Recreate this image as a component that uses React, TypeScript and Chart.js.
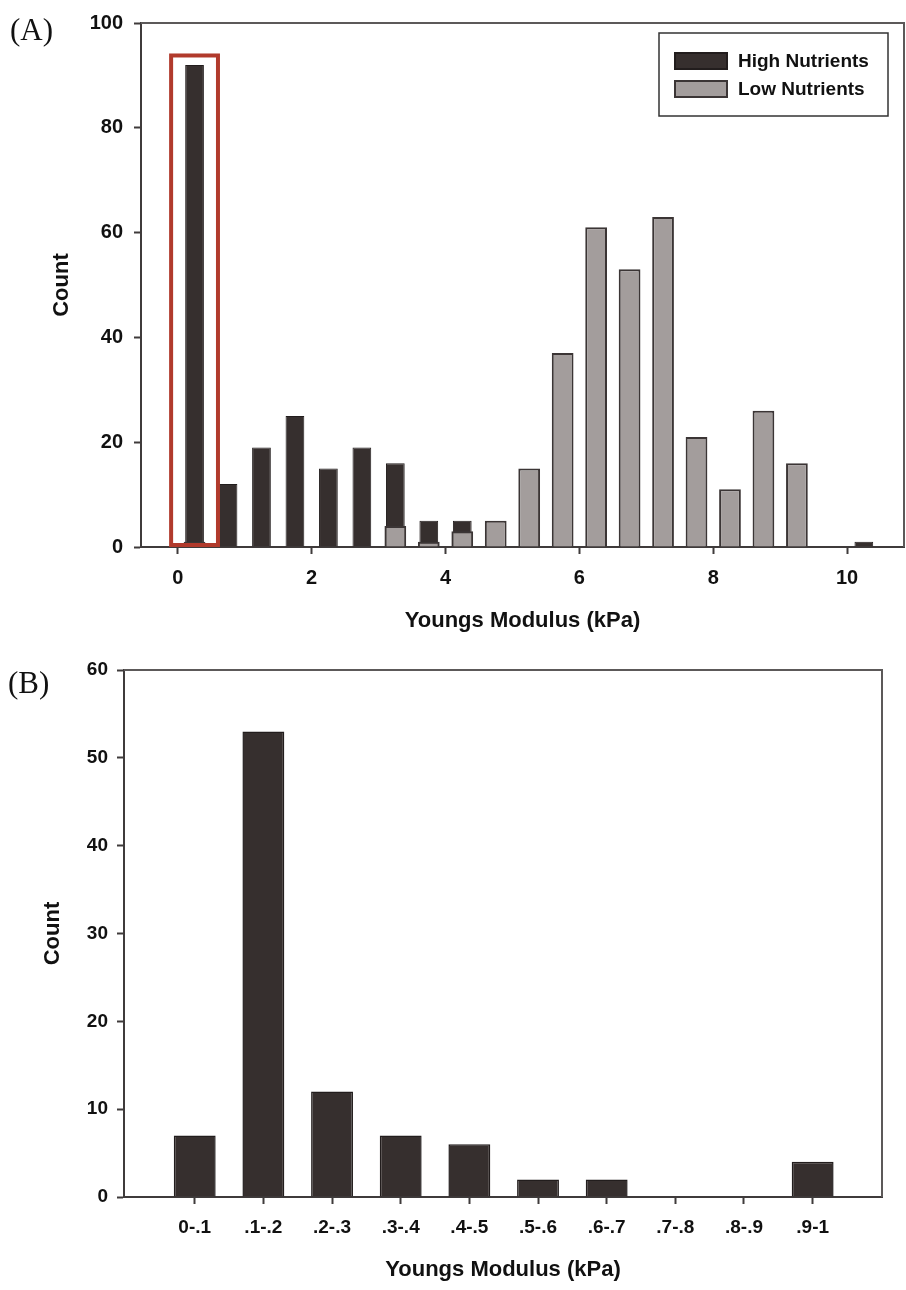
import React, { useEffect, useRef } from 'react';
import { Chart, registerables } from 'chart.js';

Chart.register(...registerables);

// ---------- Data: panel (A) ----------
const binCentersA = [0.25, 0.75, 1.25, 1.75, 2.25, 2.75, 3.25, 3.75, 4.25, 4.75, 5.25, 5.75, 6.25, 6.75, 7.25, 7.75, 8.25, 8.75, 9.25, 9.75, 10.25];
const highNutrients = [92, 12, 19, 25, 15, 19, 16, 5, 5, null, null, null, null, null, null, null, null, null, null, null, 1];
const lowNutrients = [1, null, null, null, null, null, 4, 1, 3, 5, 15, 37, 61, 53, 63, 21, 11, 26, 16, null, null];
const xTicksA = [0, 2, 4, 6, 8, 10];
const yTicksA = [0, 20, 40, 60, 80, 100];
const seriesLabelsA = ['High Nutrients', 'Low Nutrients'];

// ---------- Data: panel (B) ----------
const categoriesB = ['0-.1', '.1-.2', '.2-.3', '.3-.4', '.4-.5', '.5-.6', '.6-.7', '.7-.8', '.8-.9', '.9-1'];
const countsB = [7, 53, 12, 7, 6, 2, 2, 0, 0, 4];
const yTicksB = [0, 10, 20, 30, 40, 50, 60];

const xTitle = 'Youngs Modulus (kPa)';
const yTitle = 'Count';

// ---------- Styles ----------
const FONT = '"Liberation Sans", Arial, sans-serif';
const SERIF = '"Liberation Serif", "Times New Roman", serif';
const AXIS = '#3f3b3b';
const FRAME = '#5c5959';
const TEXT = '#111111';
const DARK_FILL = '#362f2e';
const DARK_BORDER = '#221d1d';
const GRAY_FILL = '#a39d9c';
const GRAY_BORDER = '#3b3535';
const RED = '#b13a2c';

const toPoints = (xs: number[], ys: (number | null)[]) =>
  xs.map((x, i) => ({ x, y: ys[i] })).filter((p) => p.y !== null);

const framePlugin = {
  id: 'frameBox',
  afterDraw(chart: any) {
    const { ctx, chartArea } = chart;
    ctx.save();
    ctx.strokeStyle = FRAME;
    ctx.lineWidth = 2;
    ctx.beginPath();
    ctx.moveTo(chartArea.left, chartArea.top);
    ctx.lineTo(chartArea.right, chartArea.top);
    ctx.lineTo(chartArea.right, chartArea.bottom);
    ctx.stroke();
    ctx.restore();
  },
};

const panelLabel = (text: string, x: number, y: number) => ({
  id: 'panelLabel' + text,
  afterDraw(chart: any) {
    const { ctx } = chart;
    ctx.save();
    ctx.font = `31px ${SERIF}`;
    ctx.fillStyle = TEXT;
    ctx.textBaseline = 'alphabetic';
    ctx.textAlign = 'left';
    ctx.fillText(text, x, y);
    ctx.restore();
  },
});

// highlight box around the first (0 - 0.5 kPa) bin
const highlight = { xMin: -0.1, xMax: 0.6, yMax: 93.8 };
const highlightPlugin = {
  id: 'highlightBox',
  afterDatasetsDraw(chart: any) {
    const { ctx, scales } = chart;
    const x0 = scales.x.getPixelForValue(highlight.xMin);
    const x1 = scales.x.getPixelForValue(highlight.xMax);
    const y0 = scales.y.getPixelForValue(highlight.yMax);
    const y1 = scales.y.getPixelForValue(0);
    ctx.save();
    ctx.strokeStyle = RED;
    ctx.lineWidth = 4;
    ctx.strokeRect(x0, y0, x1 - x0, y1 - y0 - 2);
    ctx.restore();
  },
};

const legendPlugin = {
  id: 'boxLegend',
  afterDraw(chart: any) {
    const { ctx, chartArea } = chart;
    const w = 229;
    const h = 83;
    const left = chartArea.right - 16 - w;
    const top = chartArea.top + 10;
    ctx.save();
    ctx.strokeStyle = '#333';
    ctx.lineWidth = 1.5;
    ctx.strokeRect(left, top, w, h);
    ctx.font = `bold 19px ${FONT}`;
    ctx.textBaseline = 'middle';
    ctx.textAlign = 'left';
    const items = [
      { label: seriesLabelsA[0], fill: DARK_FILL, border: DARK_BORDER },
      { label: seriesLabelsA[1], fill: GRAY_FILL, border: GRAY_BORDER },
    ];
    items.forEach((it, i) => {
      const cy = top + 28 + i * 28;
      ctx.fillStyle = it.fill;
      ctx.strokeStyle = it.border;
      ctx.lineWidth = 2;
      ctx.beginPath();
      ctx.rect(left + 16, cy - 8, 52, 16);
      ctx.fill();
      ctx.stroke();
      ctx.fillStyle = TEXT;
      ctx.fillText(it.label, left + 79, cy + 1);
    });
    ctx.restore();
  },
};

const axisGrid = {
  display: true,
  drawOnChartArea: false,
  drawTicks: true,
  offset: false,
  tickLength: 7,
  tickColor: AXIS,
  tickWidth: 2,
};
const axisBorder = { display: true, color: AXIS, width: 2 };

export default function App() {
  const refA = useRef<HTMLCanvasElement>(null);
  const refB = useRef<HTMLCanvasElement>(null);

  useEffect(() => {
    const tickFont = { family: FONT, size: 20, weight: 'bold' as const };
    const tickFontB = { family: FONT, size: 19, weight: 'bold' as const };
    const titleFont = { family: FONT, size: 22, weight: 'bold' as const };

    const chartA = new Chart(refA.current as HTMLCanvasElement, {
      type: 'bar',
      data: {
        datasets: [
          {
            label: seriesLabelsA[0],
            data: toPoints(binCentersA, highNutrients) as any,
            backgroundColor: DARK_FILL,
            borderColor: DARK_BORDER,
            borderWidth: 1,
            barPercentage: 0.56,
            categoryPercentage: 1,
            grouped: false,
            order: 2,
          },
          {
            label: seriesLabelsA[1],
            data: toPoints(binCentersA, lowNutrients) as any,
            backgroundColor: GRAY_FILL,
            borderColor: GRAY_BORDER,
            borderWidth: 2,
            barPercentage: 0.65,
            categoryPercentage: 1,
            grouped: false,
            order: 1,
          },
        ],
      },
      options: {
        animation: false,
        responsive: false,
        maintainAspectRatio: false,
        devicePixelRatio: 1,
        layout: { padding: { top: 18, right: 2, left: 0, bottom: 0 } },
        plugins: { legend: { display: false }, tooltip: { enabled: false } },
        scales: {
          x: {
            type: 'linear',
            offset: false,
            min: -0.55,
            max: 10.85,
            afterBuildTicks: (s: any) => {
              s.ticks = xTicksA.map((v) => ({ value: v }));
            },
            afterFit: (s: any) => {
              s.height = 98;
            },
            ticks: { font: tickFont, color: TEXT, padding: 12, maxRotation: 0, autoSkip: false },
            grid: axisGrid,
            border: axisBorder,
            title: { display: true, text: xTitle, font: titleFont, color: TEXT, padding: { top: 0, bottom: 11 } },
          },
          y: {
            min: 0,
            max: 100,
            afterBuildTicks: (s: any) => {
              s.ticks = yTicksA.map((v) => ({ value: v }));
            },
            afterFit: (s: any) => {
              s.width = 141;
            },
            ticks: { font: tickFont, color: TEXT, padding: 11 },
            grid: axisGrid,
            border: axisBorder,
            title: { display: true, text: yTitle, font: titleFont, color: TEXT, padding: { top: 49, bottom: 0 } },
          },
        },
      } as any,
      plugins: [framePlugin, highlightPlugin, legendPlugin, panelLabel('(A)', 10, 40)],
    });

    const chartB = new Chart(refB.current as HTMLCanvasElement, {
      type: 'bar',
      data: {
        datasets: [
          {
            label: yTitle,
            data: countsB.map((v, i) => ({ x: i, y: v })) as any,
            backgroundColor: DARK_FILL,
            borderColor: DARK_BORDER,
            borderWidth: 1.5,
            barPercentage: 0.61,
            categoryPercentage: 1,
          },
        ],
      },
      options: {
        animation: false,
        responsive: false,
        maintainAspectRatio: false,
        devicePixelRatio: 1,
        layout: { padding: { top: 25, right: 24, left: 0, bottom: 0 } },
        plugins: { legend: { display: false }, tooltip: { enabled: false } },
        scales: {
          x: {
            type: 'linear',
            offset: false,
            min: -1.03,
            max: 10.01,
            afterBuildTicks: (s: any) => {
              s.ticks = categoriesB.map((_, i) => ({ value: i }));
            },
            afterFit: (s: any) => {
              s.height = 93;
            },
            ticks: {
              font: tickFontB,
              color: TEXT,
              padding: 12,
              maxRotation: 0,
              autoSkip: false,
              callback: (v: any) => categoriesB[Math.round(Number(v))] ?? '',
            },
            grid: axisGrid,
            border: axisBorder,
            title: { display: true, text: xTitle, font: titleFont, color: TEXT, padding: { top: 0, bottom: 7 } },
          },
          y: {
            min: 0,
            max: 60,
            afterBuildTicks: (s: any) => {
              s.ticks = yTicksB.map((v) => ({ value: v }));
            },
            afterFit: (s: any) => {
              s.width = 124;
            },
            ticks: { font: tickFontB, color: TEXT, padding: 9 },
            grid: axisGrid,
            border: axisBorder,
            title: { display: true, text: yTitle, font: titleFont, color: TEXT, padding: { top: 40, bottom: 0 } },
          },
        },
      } as any,
      plugins: [framePlugin, panelLabel('(B)', 8, 48)],
    });

    return () => {
      chartA.destroy();
      chartB.destroy();
    };
  }, []);

  return (
    <div style={{ position: 'absolute', left: 0, top: 0, width: 906, height: 1290, background: '#fff' }}>
      <canvas ref={refA} width={906} height={645} style={{ display: 'block', width: 906, height: 645 }} />
      <canvas ref={refB} width={906} height={645} style={{ display: 'block', width: 906, height: 645 }} />
    </div>
  );
}
